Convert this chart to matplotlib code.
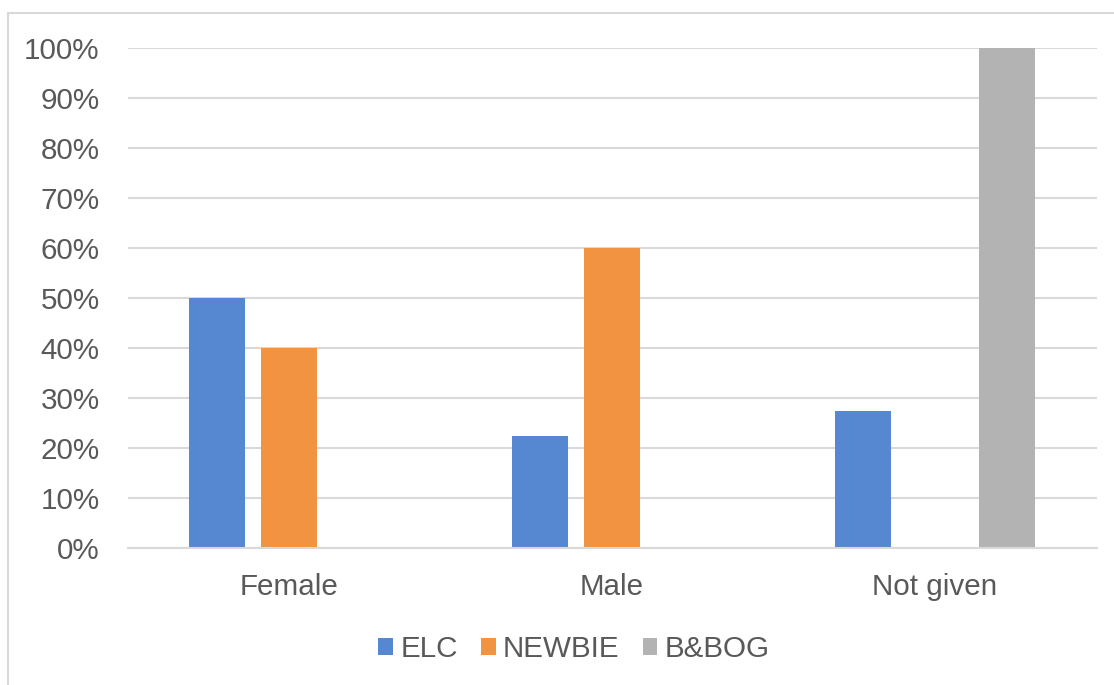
import numpy as np
import matplotlib
matplotlib.use("Agg")
import matplotlib.pyplot as plt
from matplotlib.patches import Rectangle

categories = ["Female", "Male", "Not given"]
series_names = ["ELC", "NEWBIE", "B&BOG"]
elc = [0.50, 0.225, 0.275]
newbie = [0.40, 0.60, 0.0]
bbog = [0.0, 0.0, 1.00]
yticks = [0.0, 0.1, 0.2, 0.3, 0.4, 0.5, 0.6, 0.7, 0.8, 0.9, 1.0]

colors = ["#5687d1", "#f29342", "#b3b3b3"]
text_color = "#595959"
grid_color = "#d9d9d9"

plt.rcParams["font.family"] = ["Liberation Sans", "DejaVu Sans"]

W, H = 1114, 685
fig = plt.figure(figsize=(W / 100, H / 100), dpi=100)

# light chart-area frame (open at right and bottom)
fig.patches.append(Rectangle((8 / W, -0.1), 1.2, (H - 13) / H + 0.1,
                             transform=fig.transFigure, fill=False,
                             edgecolor=grid_color, linewidth=1.5))

ax = fig.add_axes([127.5 / W, (H - 548) / H, 969 / W, 500 / H])

x = np.arange(len(categories))
bar_w = 0.173
pitch = 0.223
for i, (vals, name) in enumerate(zip([elc, newbie, bbog], series_names)):
    ax.bar(x + (i - 1) * pitch, vals, width=bar_w, color=colors[i],
           label=name, zorder=3)

ax.set_xlim(-0.5, len(categories) - 0.5)
ax.set_ylim(0, 1.0)
ax.set_yticks(yticks)
ax.set_yticklabels([f"{int(round(t * 100))}%" for t in yticks])
ax.set_xticks(x)
ax.set_xticklabels(categories)

ax.tick_params(axis="both", length=0, colors=text_color, labelsize=21.3)
ax.tick_params(axis="y", pad=20)
ax.tick_params(axis="x", pad=18)

ax.grid(axis="y", color=grid_color, linewidth=1.5, zorder=0)
for side in ["top", "right", "left"]:
    ax.spines[side].set_visible(False)
ax.spines["bottom"].set_color(grid_color)
ax.spines["bottom"].set_linewidth(1.5)
ax.spines["bottom"].set_zorder(4)

leg = fig.legend(loc="center", bbox_to_anchor=(574 / W, (H - 649) / H),
                 ncol=3, frameon=False, fontsize=21.3, labelcolor=text_color,
                 handlelength=0.5, handleheight=0.5, handletextpad=0.25,
                 columnspacing=0.78)

fig.savefig("out.png", dpi=100, facecolor="white")
